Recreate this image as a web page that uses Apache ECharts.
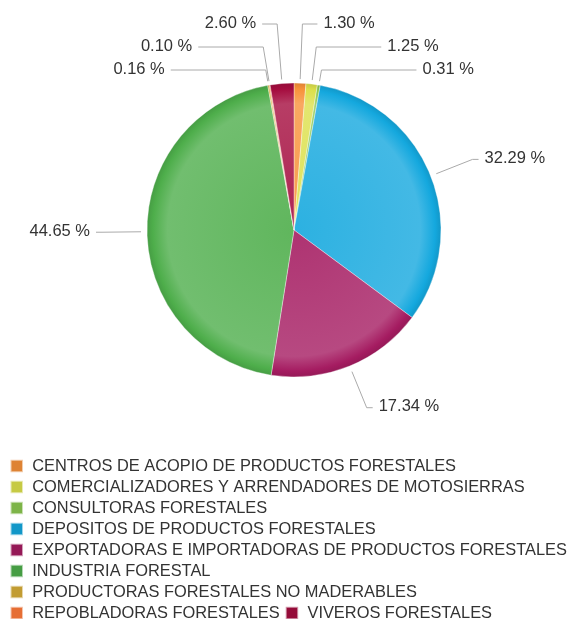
<!DOCTYPE html>
<html>
<head>
<meta charset="utf-8">
<script src="https://cdn.jsdelivr.net/npm/echarts@6/dist/echarts.min.js"></script>
<style>
  html, body { margin: 0; padding: 0; background: #fff; }
  #chart { width: 571px; height: 619px; }
</style>
</head>
<body>
<div id="chart"></div>
<script>
const categories = [
  'CENTROS DE ACOPIO DE PRODUCTOS FORESTALES',
  'COMERCIALIZADORES Y ARRENDADORES DE MOTOSIERRAS',
  'CONSULTORAS FORESTALES',
  'DEPOSITOS DE PRODUCTOS FORESTALES',
  'EXPORTADORAS E IMPORTADORAS DE PRODUCTOS FORESTALES',
  'INDUSTRIA FORESTAL',
  'PRODUCTORAS FORESTALES NO MADERABLES',
  'REPOBLADORAS FORESTALES',
  'VIVEROS FORESTALES'
]
const percents = [1.30, 1.25, 0.31, 32.29, 17.34, 44.65, 0.16, 0.10, 2.60]
const colors = ['#F7923A', '#DCE04B', '#8BC850', '#14A8DE', '#A51C61', '#4EAE4B', '#D8AD38', '#FF7A3A', '#A50D3F']

const CX = 294, CY = 230, R = 147
const tierY = [70, 47, 24]      // stacked label rows for the thin slices
const tierLen = [95, 65, 15]

function mix(hex, t, target) {
  const n = parseInt(hex.slice(1), 16)
  const ch = [n >> 16, (n >> 8) & 255, n & 255].map(v => Math.round(v + (target - v) * t))
  return 'rgb(' + ch.join(',') + ')'
}

// mid angle of each slice (clockwise from 12 o'clock), in math radians
const total = percents.reduce((a, b) => a + b, 0)
let acc = 0
const midAngles = percents.map(v => {
  const mid = 90 - (acc + v / 2) / total * 360
  acc += v
  return mid * Math.PI / 180
})

// thin slices get stacked rows, nearest to the big neighbour lowest
const tiers = []
const rightSmall = [], leftSmall = []
percents.forEach((v, i) => {
  if (v >= 5) return
  if (Math.cos(midAngles[i]) >= 0) rightSmall.push(i); else leftSmall.push(i)
})
rightSmall.sort((a, b) => midAngles[a] - midAngles[b]).forEach((i, k) => tiers[i] = k)
leftSmall.sort((a, b) => midAngles[b] - midAngles[a]).forEach((i, k) => tiers[i] = k)

const seriesData = categories.map((name, i) => ({
  name: name,
  value: percents[i],
  itemStyle: {
    color: {
      type: 'radial', x: CX, y: CY, r: R, global: true,
      colorStops: [
        { offset: 0, color: mix(colors[i], 0.1, 255) },
        { offset: 0.86, color: mix(colors[i], 0.2, 255) },
        { offset: 0.96, color: colors[i] },
        { offset: 1, color: mix(colors[i], 0.1, 0) }
      ]
    }
  }
}))

const chart = echarts.init(document.getElementById('chart'))
chart.setOption({
  animation: false,
  color: colors,
  legend: {
    orient: 'horizontal',
    left: 9.5, top: 458, width: 562,
    padding: 0,
    itemGap: 5,
    itemWidth: 21, itemHeight: 12.5,
    icon: 'path://M0,0h10v10h-10z',
    selectedMode: false,
    textStyle: {
      fontFamily: 'Liberation Sans', fontSize: 16.4, lineHeight: 16, color: '#333'
    },
    data: categories
  },
  series: [{
    type: 'pie',
    center: [CX, CY],
    radius: R,
    startAngle: 90,
    clockwise: true,
    avoidLabelOverlap: false,
    emphasis: { disabled: true },
    itemStyle: { borderColor: 'rgba(255,255,255,0.6)', borderWidth: 0.6 },
    label: {
      show: true,
      fontFamily: 'Liberation Sans',
      fontSize: 16.5,
      color: '#333',
      formatter: p => p.value.toFixed(2) + ' %'
    },
    labelLine: { show: true, length: 40, length2: 8, lineStyle: { color: '#aaa', width: 1 } },
    labelLayout: function (params) {
      const i = params.dataIndex
      const c = Math.cos(midAngles[i]), s = Math.sin(midAngles[i])
      const dir = c >= 0 ? 1 : -1
      let p0, p1, p2
      if (percents[i] < 5) {
        const ty = tierY[tiers[i]]
        const r1 = (CY - ty) / s
        p0 = [CX + (R + 4) * c, CY - (R + 4) * s]
        p1 = [CX + r1 * c, ty]
        p2 = [p1[0] + dir * tierLen[tiers[i]], ty]
      } else {
        p0 = [CX + (R + 6) * c, CY - (R + 6) * s]
        p1 = [CX + (R + 45) * c, CY - (R + 45) * s]
        p2 = [p1[0] + dir * 6, p1[1]]
      }
      return {
        x: p2[0] + dir * 6,
        y: p2[1] - 1,
        align: dir > 0 ? 'left' : 'right',
        verticalAlign: 'middle',
        labelLinePoints: [p0, p1, p2]
      }
    },
    data: seriesData
  }]
})
</script>
</body>
</html>
